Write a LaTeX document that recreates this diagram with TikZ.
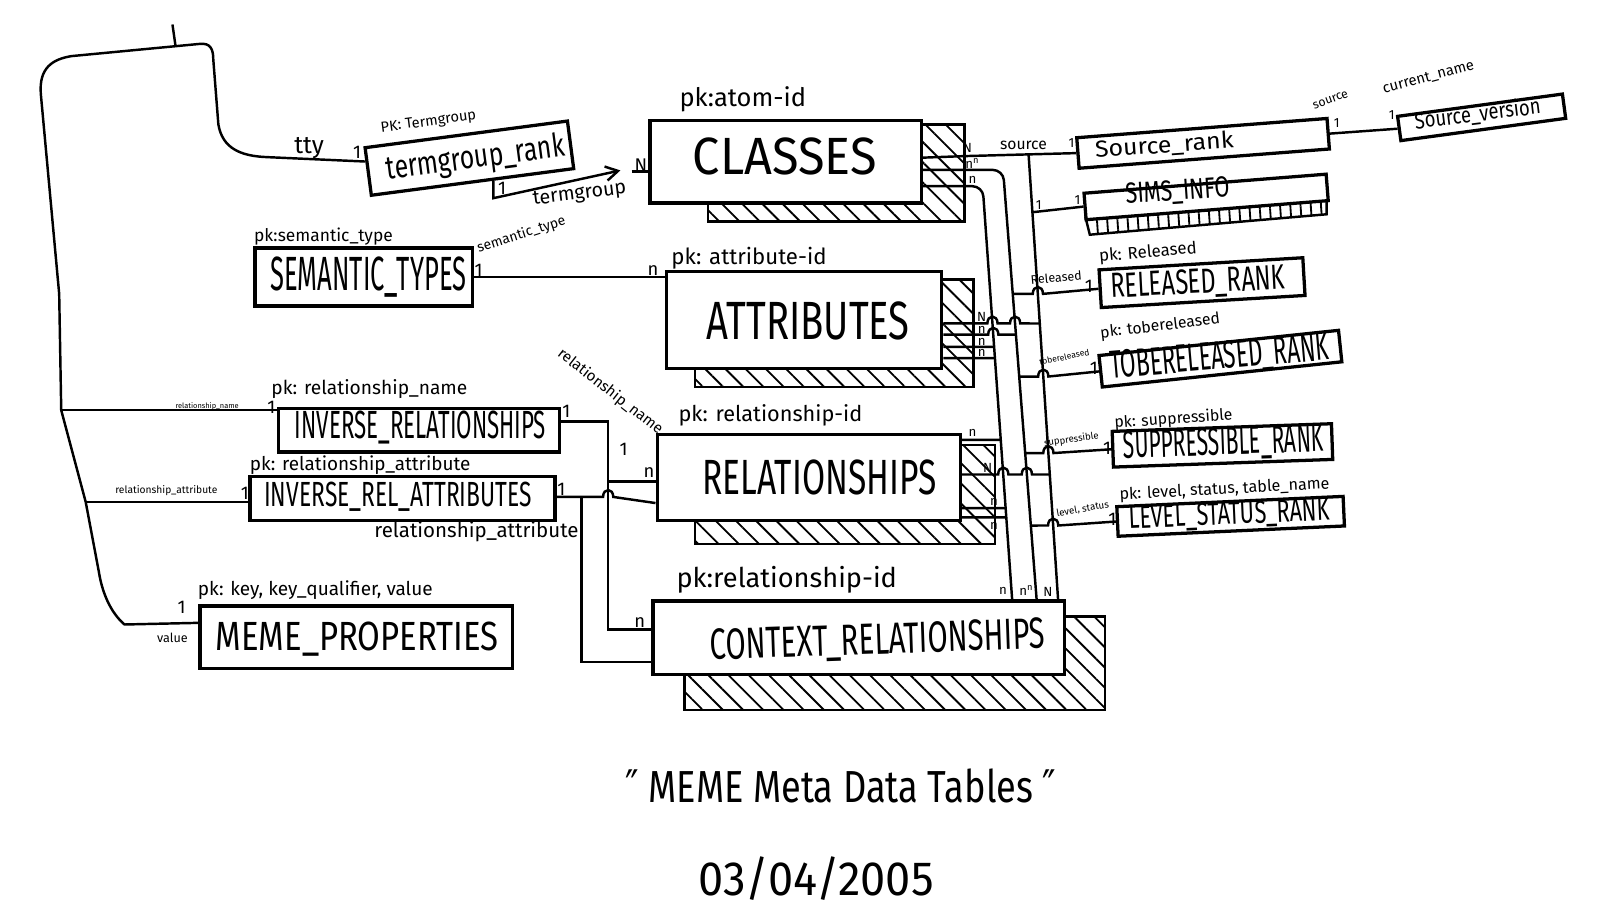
\documentclass[tikz,border=0pt]{standalone}
\usepackage{fontspec}
\setmainfont{Fira Sans}
\newfontfamily\quotefont{DejaVu Sans}
\usepackage{graphicx}
\usetikzlibrary{calc,arrows.meta,patterns.meta}

\newcommand{\fitwh}[3]{\resizebox{#1}{#2}{#3}}
\newcommand{\fitw}[2]{\resizebox{#1}{!}{#2}}
% small jump of a line over a crossing line at x=#1, y=#2
\newcommand{\hopover}[2]{-- ({#1-5},#2) .. controls ({#1-5},{#2-9}) and ({#1+5},{#2-9}) .. ({#1+5},#2)}

\tikzset{
  tbl/.style={draw, line width=1.6pt, fill=white, inner sep=0pt},
  hatch/.style={draw, line width=1.2pt, pattern={Lines[angle=-45,distance=7pt,line width=0.9pt]}},
  link/.style={line width=1.2pt},
  txt/.style={inner sep=0pt},
  card/.style={inner sep=0pt, font=\fontsize{9}{9}\selectfont},
  cardsm/.style={inner sep=0pt, font=\fontsize{6.5}{6.5}\selectfont},
}

\begin{document}
\begin{tikzpicture}[x=0.5pt,y=-0.5pt]
\useasboundingbox (0,0) rectangle (1568,898);

%Shadows
\draw[hatch] (694,122) rectangle (945,217);
\draw[hatch] (681,274) rectangle (954,379);
\draw[hatch] (681,436) rectangle (975,533);
\draw[hatch] (671,604) rectangle (1083,696);
\draw[line width=1.2pt, pattern={Lines[angle=94,distance=5pt,line width=0.9pt]}] (1064,214) -- (1300,196) -- (1300,210) -- (1068,230) -- cycle;

%Tables
\node[tbl, minimum width=100pt, minimum height=23.5pt, rotate=7.5] (tg) at (460,155) {};
\node[tbl, minimum width=133pt, minimum height=40.5pt] (cls) at (770,158.5) {};
\node[tbl, minimum width=135pt, minimum height=47.5pt] (attr) at (788,313.5) {};
\node[tbl, minimum width=148.5pt, minimum height=42pt] (rels) at (792.5,468) {};
\node[tbl, minimum width=201.5pt, minimum height=36pt] (ctx) at (841.5,625) {};
\node[tbl, minimum width=106.5pt, minimum height=28.5pt] (sem) at (356.5,271.5) {};
\node[tbl, minimum width=137.5pt, minimum height=21.5pt] (invr) at (410.5,421.5) {};
\node[tbl, minimum width=149.5pt, minimum height=21.5pt] (inva) at (394.5,488.5) {};
\node[tbl, minimum width=153pt, minimum height=30.5pt] (meme) at (349,624.5) {};
\node[tbl, minimum width=123pt, minimum height=15pt, rotate=4.4] (srank) at (1179,140.5) {};
\node[tbl, minimum width=81.5pt, minimum height=12pt, rotate=7.7] (sver) at (1452,115) {};
\node[tbl, minimum width=119pt, minimum height=13pt, rotate=4.5] (sims) at (1182,193) {};
\node[tbl, minimum width=100pt, minimum height=18.5pt, rotate=3.4] (relr) at (1178,277) {};
\node[tbl, minimum width=118pt, minimum height=15.5pt, rotate=6] (tobr) at (1196,351.5) {};
\node[tbl, minimum width=107.5pt, minimum height=17.5pt, rotate=2] (supr) at (1198,436.5) {};
\node[tbl, minimum width=111pt, minimum height=14.5pt, rotate=2.6] (lvlr) at (1206,506) {};

%Table names
\node[txt, rotate=7.5] (tg-t) at (466,156) {\fitwh{88pt}{12pt}{termgroup\_rank}};
\node[txt] (cls-t) at (769,153) {\fitwh{90pt}{18pt}{CLASSES}};
\node[txt] (attr-t) at (792,315) {\fitwh{99.5pt}{18.5pt}{ATTRIBUTES}};
\node[txt] (rels-t) at (803,468) {\fitwh{114.5pt}{17pt}{RELATIONSHIPS}};
\node[txt, rotate=2] (ctx-t) at (860,629) {\fitwh{164pt}{15pt}{CONTEXT\_RELATIONSHIPS}};
\node[txt] (sem-t) at (361,272) {\fitwh{96pt}{16.5pt}{SEMANTIC\_TYPES}};
\node[txt] (invr-t) at (412,419) {\fitwh{123pt}{13.5pt}{INVERSE\_RELATIONSHIPS}};
\node[txt] (inva-t) at (390,487) {\fitwh{131pt}{12pt}{INVERSE\_REL\_ATTRIBUTES}};
\node[txt] (meme-t) at (350,626) {\fitwh{138.5pt}{14pt}{MEME\_PROPERTIES}};
\node[txt, rotate=4] (srank-t) at (1141,143) {\fitwh{68pt}{8.5pt}{Source\_rank}};
\node[txt, rotate=7] (sver-t) at (1448,112) {\fitwh{62pt}{8.5pt}{Source\_version}};
\node[txt, rotate=4] (sims-t) at (1154,188) {\fitwh{51pt}{10pt}{SIMS\_INFO}};
\node[txt, rotate=3] (relr-t) at (1174,278) {\fitwh{85.5pt}{12pt}{RELEASED\_RANK}};
\node[txt, rotate=5] (tobr-t) at (1195,351) {\fitwh{107.5pt}{13.5pt}{TOBERELEASED\_RANK}};
\node[txt, rotate=2] (supr-t) at (1199,435) {\fitwh{98pt}{13.5pt}{SUPPRESSIBLE\_RANK}};
\node[txt, rotate=2.5] (lvlr-t) at (1205,505) {\fitwh{98.5pt}{11pt}{LEVEL\_STATUS\_RANK}};

%Bus lines
\coordinate (bbT) at (963,182.5);
\coordinate (bbB) at (992,589);
\coordinate (bcT) at (983,166.5);
\coordinate (bcB) at (1016,589);
\coordinate (bdT) at (1008,151.3);
\coordinate (bdB) at (1037,589);

%Left loop
\coordinate (jrn) at (60,402);
\coordinate (jra) at (84,492);
\coordinate (tgw) at ($(tg.north west)!0.3!(tg.south west)$);
\draw[link] ($(meme.north west)+(0,18)$) -- (122,612) .. controls (108,600) and (100,580) .. (97,561) -- (jra) -- (jrn) -- (58,288) -- (40,92) .. controls (38,66) and (52,58) .. (70,55) -- (196,43) .. controls (206,42) and (209,48) .. (209,58) -- (214,122) .. controls (218,145) and (235,153) .. (262,154) -- (tgw);
\draw[link] (169,24) -- (172,45);
\draw[link] (jrn) -- (jrn -| invr.west);
\draw[link] (jra) -- (jra -| inva.west);

%termgroup to CLASSES
\coordinate (tgb) at ($(tg.south west)!0.6!(tg.south east)$);
\coordinate (tgarr) at (608,167);
\coordinate (tgn) at (619,168);
\draw[link, -{Straight Barb[length=6pt,width=7pt]}] (tgb) -- ++(0,17) -- (tgarr);
\draw[link] (tgn) -- (tgn -| cls.west);

%SEMANTIC_TYPES to ATTRIBUTES
\draw[link] (sem.east) -- (sem.east -| attr.west);

%INVERSE tables
\draw[link] ([yshift=4.25pt]invr.east) -- (596,413) -- (596,617) -- (596,617 -| ctx.west);
\draw[link] (596,472) -- (596,472 -| rels.west);
\draw[link] ([yshift=0.75pt]inva.east) -- (570,487) \hopover{596}{487} -- ($(rels.west)+(0,25)$);
\draw[link] (570,487) -- (570,649) -- (570,649 -| ctx.west);

%CLASSES to the right
\draw[link] ([yshift=2pt]cls.east) -- (945,153) -- (bdT) -- (srank.west);
\draw[link, rounded corners=5pt] ([yshift=-4pt]cls.east) -- (bcT) -- (bcB);
\draw[link, rounded corners=5pt] ([yshift=-12pt]cls.east) -- (bbT) -- (bbB);
\draw[link] (bdT) -- (bdB);
\draw[link] (srank.east) -- (sver.west);
\draw[link] ($(bdT)!0.1295!(bdB)$) -- (sims.west);

%Ranks
\draw[link] ($(bcT)!0.2876!(bcB)$) \hopover{1017.1}{288} -- (relr.west);
\draw[link] ($(bcT)!0.4793!(bcB)$) \hopover{1022.4}{369} -- (tobr.west);
\draw[link] ($(bcT)!0.6568!(bcB)$) \hopover{1027.4}{444} -- (supr.west);
\draw[link] ($(bcT)!0.8249!(bcB)$) \hopover{1032.1}{515} -- (lvlr.west);

%ATTRIBUTES to the bus
\draw[link] ([yshift=-1.75pt]attr.east) \hopover{972.6}{317} \hopover{994.8}{317} -- ($(bdT)!0.3786!(bdB)$);
\draw[link] ([yshift=-7.25pt]attr.east) \hopover{973.4}{328} -- ($(bcT)!0.3822!(bcB)$);
\draw[link] ([yshift=-13.25pt]attr.east) -- ($(bbT)!0.3875!(bbB)$);
\draw[link] ([yshift=-18.75pt]attr.east) -- ($(bbT)!0.4145!(bbB)$);

%RELATIONSHIPS to the bus
\draw[link] ([yshift=18.5pt]rels.east) -- ($(bbT)!0.6113!(bbB)$);
\draw[link] ([yshift=1.5pt]rels.east) \hopover{983.2}{465} \hopover{1006.3}{465} -- ($(bdT)!0.7167!(bdB)$);
\draw[link] ([yshift=-15pt]rels.east) -- ($(bbT)!0.7761!(bbB)$);
\draw[link] ([yshift=-19.5pt]rels.east) -- ($(bbT)!0.7983!(bbB)$);

%Keys and foreign keys
\node[txt, rotate=7.5] (tg-pk) at (420,120) {\fitw{47pt}{PK: Termgroup}};
\node[txt] (tty) at (303,145) {\fitw{14.5pt}{tty}};
\node[txt, rotate=7] (tg-fk) at (568,191) {\fitw{46pt}{termgroup}};
\node[txt] (cls-pk) at (728,97) {\fitw{62pt}{pk:atom-id}};
\node[txt] (attr-pk) at (734,253) {\fitw{76pt}{pk: attribute-id}};
\node[txt] (rels-pk) at (755,407) {\fitw{90pt}{pk: relationship-id}};
\node[txt] (ctx-pk) at (771,568) {\fitw{108pt}{pk:relationship-id}};
\node[txt] (sem-pk) at (317,232) {\fitw{68pt}{pk:semantic\_type}};
\node[txt, rotate=18] (sem-fk) at (511,230) {\fitw{45pt}{semantic\_type}};
\node[txt] (invr-pk) at (362,381) {\fitw{96pt}{pk: relationship\_name}};
\node[txt] (invr-fk) at (203,398) {\fitw{31pt}{relationship\_name}};
\node[txt, rotate=-38] (invr-fk2) at (598,384) {\fitw{63pt}{relationship\_name}};
\node[txt] (inva-pk) at (353,456) {\fitw{108pt}{pk: relationship\_attribute}};
\node[txt] (inva-fk) at (163,481) {\fitw{50pt}{relationship\_attribute}};
\node[txt] (inva-fk2) at (467,521) {\fitw{100pt}{relationship\_attribute}};
\node[txt] (meme-pk) at (309,578) {\fitw{115pt}{pk: key, key\_qualifier, value}};
\node[txt] (meme-fk) at (169,625) {\fitw{15pt}{value}};
\node[txt] (src-fk) at (1003,142) {\fitw{23pt}{source}};
\node[txt, rotate=20] (src-fk2) at (1304,98) {\fitw{18pt}{source}};
\node[txt, rotate=15] (cur-fk) at (1400,76) {\fitw{46pt}{current\_name}};
\node[txt, rotate=5] (relr-pk) at (1125,248) {\fitw{48pt}{pk: Released}};
\node[txt, rotate=5] (relr-fk) at (1035,272) {\fitw{25pt}{Released}};
\node[txt, rotate=7] (tobr-pk) at (1137,320) {\fitw{59pt}{pk: tobereleased}};
\node[txt, rotate=12] (tobr-fk) at (1043,350) {\fitw{25pt}{tobereleased}};
\node[txt, rotate=4] (supr-pk) at (1150,411) {\fitw{58pt}{pk: suppressible}};
\node[txt, rotate=8] (supr-fk) at (1050,431) {\fitw{27pt}{suppressible}};
\node[txt, rotate=3] (lvlr-pk) at (1200,480) {\fitw{103pt}{pk: level, status, table\_name}};
\node[txt, rotate=10] (lvlr-fk) at (1061,499) {\fitw{26pt}{level, status}};

%Cardinalities
\node[card] (c1) at (350,149) {1};
\node[card] (c2) at (492,185) {1};
\node[card] (c3) at (628,162) {N};
\node[card] (c4) at (469,265) {1};
\node[card] (c5) at (640,265) {n};
\node[card] (c6) at (266,399) {1};
\node[card] (c7) at (555,403) {1};
\node[card] (c8) at (636,463) {n};
\node[card] (c9) at (627,610) {n};
\node[card] (c10) at (611,440) {1};
\node[card] (c11) at (240,483) {1};
\node[card] (c12) at (550,480) {1};
\node[card] (c13) at (178,595) {1};
\node[cardsm] (c14) at (1050,140) {1};
\node[cardsm] (c15) at (1310,121) {1};
\node[cardsm] (c16) at (1364,113) {1};
\node[cardsm] (c17) at (1018,201) {1};
\node[cardsm] (c18) at (1056,196) {1};
\node[card] (c19) at (1067,281) {1};
\node[card] (c20) at (1072,361) {1};
\node[card] (c21) at (1085,439) {1};
\node[card] (c22) at (1090,509) {1};
\node[cardsm] (b1) at (948,145) {N};
\node[cardsm] (b2) at (953,160) {n\textsuperscript{n}};
\node[cardsm] (b3) at (953,176) {n};
\node[cardsm] (b4) at (962,311) {N};
\node[cardsm] (b5) at (962,323) {n};
\node[cardsm] (b6) at (962,335) {n};
\node[cardsm] (b7) at (962,346) {n};
\node[cardsm] (b8) at (953,424) {n};
\node[cardsm] (b9) at (968,459) {N};
\node[cardsm] (b10) at (974,492) {n};
\node[cardsm] (b11) at (974,515) {n};
\node[cardsm] (b12) at (983,579) {n};
\node[cardsm] (b13) at (1006,579) {n\textsuperscript{n}};
\node[cardsm] (b14) at (1027,580) {N};

%Title
\node[txt] (title) at (824,770) {\fitwh{211pt}{16.5pt}{{\quotefont ″} MEME Meta Data Tables {\quotefont ″}}};
\node[txt] (date) at (800,861) {\fitwh{115pt}{19pt}{03/04/2005}};
\end{tikzpicture}
\end{document}
